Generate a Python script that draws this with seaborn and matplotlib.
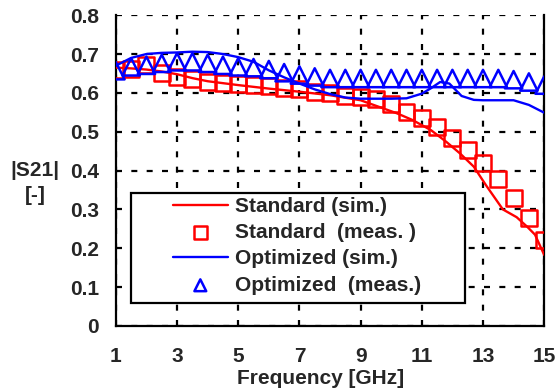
import pandas as pd
import seaborn as sns
import matplotlib.pyplot as plt
from matplotlib.patches import Rectangle

# measured points (every 0.5 GHz)
freq_meas = [1, 1.5, 2, 2.5, 3, 3.5, 4, 4.5, 5, 5.5, 6, 6.5, 7, 7.5, 8,
             8.5, 9, 9.5, 10, 10.5, 11, 11.5, 12, 12.5, 13, 13.5, 14, 14.5, 15]
std_meas = [0.660, 0.662, 0.672, 0.652, 0.641, 0.635, 0.629, 0.625, 0.622, 0.620,
            0.617, 0.613, 0.609, 0.603, 0.599, 0.593, 0.590, 0.585, 0.572, 0.550,
            0.535, 0.512, 0.484, 0.453, 0.420, 0.378, 0.330, 0.278, 0.221]
opt_meas = [0.657, 0.667, 0.671, 0.676, 0.680, 0.680, 0.676, 0.671, 0.667, 0.665,
            0.660, 0.652, 0.646, 0.641, 0.637, 0.637, 0.637, 0.637, 0.637, 0.637,
            0.637, 0.637, 0.637, 0.637, 0.637, 0.637, 0.634, 0.628, 0.620]

# simulated curves
std_sim_f = [1, 1.5, 2, 2.5, 3, 3.5, 4, 5, 6, 7, 8, 9, 9.6, 10.2, 10.7, 11.3,
             11.8, 12.25, 12.7, 13.1, 13.65, 14.1, 14.45, 14.7, 15]
std_sim = [0.665, 0.663, 0.660, 0.655, 0.648, 0.638, 0.630, 0.620, 0.611, 0.603,
           0.594, 0.581, 0.564, 0.547, 0.530, 0.504, 0.474, 0.444, 0.410, 0.362,
           0.300, 0.280, 0.255, 0.235, 0.183]
opt_sim_f = [1, 1.5, 2, 2.5, 3, 3.5, 4, 4.5, 5, 5.5, 6, 6.5, 7, 7.5, 8, 8.5, 9,
             9.5, 10, 10.5, 11, 11.3, 11.6, 11.9, 12.3, 12.7, 13, 13.5, 14, 14.5, 15]
opt_sim = [0.670, 0.690, 0.700, 0.703, 0.704, 0.706, 0.705, 0.700, 0.692, 0.680,
           0.658, 0.640, 0.624, 0.609, 0.597, 0.588, 0.585, 0.585, 0.585, 0.586,
           0.598, 0.612, 0.628, 0.624, 0.592, 0.582, 0.581, 0.581, 0.581, 0.569, 0.549]

x_ticks = [1, 3, 5, 7, 9, 11, 13, 15]
y_ticks = [0, 0.1, 0.2, 0.3, 0.4, 0.5, 0.6, 0.7, 0.8]
y_ticklabels = ['0', '0.1', '0.2', '0.3', '0.4', '0.5', '0.6', '0.7', '0.8']

sns.set_style('white')
plt.rcParams['font.family'] = ['Liberation Sans', 'DejaVu Sans']
plt.rcParams['font.weight'] = 'bold'
plt.rcParams['font.size'] = 15

fig = plt.figure(figsize=(5.57, 3.89), dpi=100)
ax = fig.add_axes([0.208, 0.162, 0.769, 0.799])

sns.lineplot(x=std_sim_f, y=std_sim, ax=ax, color='#ff0000', lw=1.7,
             label='Standard (sim.)', zorder=3)
sns.scatterplot(x=freq_meas, y=std_meas, ax=ax, marker='s', s=11.5 ** 2,
                facecolor='none', edgecolor='#ff0000', linewidth=1.8,
                label='Standard  (meas. )', zorder=3)
sns.lineplot(x=opt_sim_f, y=opt_sim, ax=ax, color='#0000ff', lw=1.7,
             label='Optimized (sim.)', zorder=3)
sns.scatterplot(x=freq_meas, y=opt_meas, ax=ax, marker='^', s=12.5 ** 2,
                facecolor='none', edgecolor='#0000ff', linewidth=1.8,
                label='Optimized  (meas.)', zorder=3)

ax.set_xlim(1, 15)
ax.set_ylim(0, 0.8)
ax.set_xticks(x_ticks)
ax.set_yticks(y_ticks)
ax.set_yticklabels(y_ticklabels)
ax.tick_params(direction='inout', length=8, width=1.5, color='black',
               labelsize=15)
ax.tick_params(axis='x', pad=11)
ax.tick_params(axis='y', pad=8)
for lab in ax.get_xticklabels() + ax.get_yticklabels():
    lab.set_fontweight('bold')

ax.grid(True, color='black', lw=1.6, linestyle=(0, (2.7, 4.2)))
ax.set_axisbelow(True)
ax.spines['top'].set_visible(False)
for s in ['left', 'bottom', 'right']:
    ax.spines[s].set_linewidth(1.6)
    ax.spines[s].set_color('black')

ax.set_xlabel('Frequency [GHz]', fontsize=15, fontweight='bold')
ax.xaxis.set_label_coords(0.477, -0.14)
ax.set_ylabel('')
fig.text(35 / 557, 1 - 183 / 389, '|S21|\n[-]', ha='center', va='center',
         fontsize=15, fontweight='bold', linespacing=1.4)

# legend box
ax.add_patch(Rectangle((0.035, 0.074), 0.78, 0.354, transform=ax.transAxes,
                       facecolor='white', edgecolor='black', lw=1.6, zorder=4))
handles, labels = ax.get_legend_handles_labels()
leg = ax.legend(handles, labels, loc='center left',
                bbox_to_anchor=(0.133, 0.258), frameon=False, borderpad=0,
                borderaxespad=0, handlelength=2.64, handletextpad=0.35,
                labelspacing=0.35, fontsize=15, scatterpoints=1)
leg.set_zorder(5)
leg.legend_handles[1].set_sizes([9.5 ** 2])
leg.legend_handles[3].set_sizes([8.5 ** 2])
for t in leg.get_texts():
    t.set_fontweight('bold')

fig.savefig('out.png', dpi=100)
